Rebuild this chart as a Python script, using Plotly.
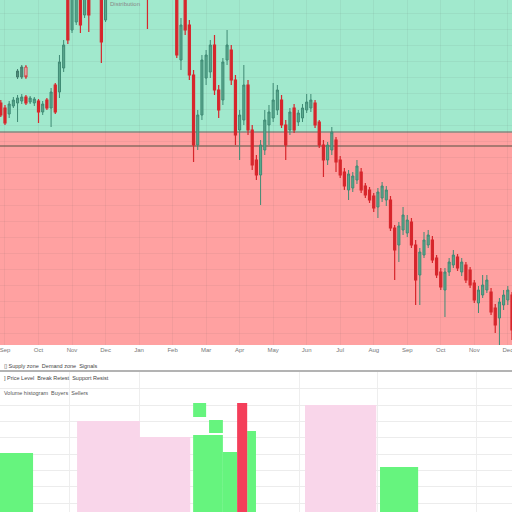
import plotly.graph_objects as go

# ---------------- data ----------------
month_labels = ["Sep", "Oct", "Nov", "Dec", "Jan", "Feb", "Mar", "Apr",
                "May", "Jun", "Jul", "Aug", "Sep", "Oct", "Nov", "Dec"]

opens = [242, 237, 231, 239, 242, 244, 248, 243, 242, 244,
         233, 245, 237, 260, 253, 277, 360, 315, 323, 365,
         330, 370, 350, 375, 360, 325, 365, 375, 370, 382,
         390, 384, 392, 398, 390, 380, 372, 380, 388, 381,
         375, 368, 365, 285, 355, 320, 270, 200, 230, 267,
         273, 300, 255, 245, 285, 295, 265, 215, 225, 260,
         215, 185, 170, 195, 220, 227, 235, 245, 220, 215,
         237, 223, 227, 235, 237, 242, 223, 200, 185, 195,
         205, 185, 173, 155, 157, 165, 173, 159, 155, 149,
         138, 147, 145, 145, 117, 100, 115, 112, 123, 100,
         70, 90, 100, 105, 87, 73, 55, 73, 80, 88,
         73, 80, 75, 62, 42, 50, 55, 53, 37, 27,
         40, 45, 50]
highs = [245, 240, 244, 248, 250, 251, 250, 249, 248, 246,
         244, 247, 257, 262, 290, 305, 370, 365, 370, 375,
         375, 380, 385, 390, 370, 375, 382, 385, 390, 398,
         396, 400, 405, 404, 395, 386, 388, 395, 394, 387,
         380, 374, 375, 327, 365, 325, 275, 235, 290, 295,
         305, 310, 260, 287, 315, 300, 270, 235, 280, 265,
         220, 190, 205, 235, 240, 262, 260, 250, 225, 237,
         241, 235, 241, 251, 251, 245, 225, 205, 203, 218,
         208, 189, 177, 175, 173, 185, 177, 162, 158, 152,
         157, 163, 159, 149, 120, 123, 138, 130, 127, 105,
         97, 113, 115, 109, 90, 77, 77, 87, 95, 91,
         87, 83, 78, 65, 59, 70, 70, 57, 41, 47,
         55, 59, 53]
lows = [228, 220, 227, 237, 223, 241, 240, 241, 239, 222,
        230, 235, 218, 231, 247, 273, 301, 312, 320, 312,
        327, 313, 347, 348, 282, 323, 360, 362, 365, 377,
        378, 380, 386, 384, 372, 316, 366, 374, 375, 368,
        360, 350, 287, 275, 310, 265, 183, 195, 225, 260,
        267, 250, 227, 240, 280, 260, 200, 185, 220, 210,
        175, 165, 140, 190, 200, 223, 230, 217, 185, 210,
        212, 219, 223, 232, 233, 217, 197, 168, 180, 190,
        173, 167, 155, 145, 153, 161, 152, 147, 142, 133,
        127, 143, 139, 114, 65, 83, 110, 108, 97, 40,
        40, 87, 97, 82, 67, 55, 28, 69, 77, 74,
        69, 62, 57, 42, 32, 47, 52, 30, 12, 0,
        35, 40, 5]
closes = [230, 222, 241, 245, 247, 248, 242, 247, 246, 233,
          241, 237, 253, 233, 283, 300, 305, 355, 360, 320,
          365, 330, 375, 352, 303, 365, 375, 370, 382, 390,
          384, 392, 398, 390, 380, 372, 380, 388, 381, 375,
          368, 362, 290, 320, 315, 270, 200, 230, 285, 290,
          300, 255, 235, 283, 300, 265, 210, 230, 260, 215,
          180, 170, 200, 225, 233, 245, 255, 220, 200, 233,
          215, 232, 237, 243, 245, 220, 200, 185, 200, 213,
          183, 170, 159, 171, 169, 179, 155, 150, 145, 137,
          153, 159, 155, 117, 95, 119, 130, 125, 100, 65,
          93, 105, 110, 85, 70, 58, 73, 83, 90, 77,
          83, 65, 60, 45, 55, 60, 65, 33, 20, 43,
          50, 55, 15]

# small stray candles
blip_idx = [4, 5, 6]
blip_open = [268, 268, 278]
blip_high = [276, 280, 280]
blip_low = [266, 266, 266]
blip_close = [274, 278, 268]

# zone levels
upper_zone_level = 213
lower_line_level = 199

# lower panel blocks (start index, end index, bottom, top)
green_start = [-0.5, 45.9, 53.0, 45.9, 49.7, 58.8, 90.5]
green_end = [7.7, 53.0, 56.4, 49.0, 53.0, 60.9, 99.6]
green_low = [0, 0, 0, 95, 79, 0, 0]
green_high = [59, 77, 60, 109, 92, 81, 45]

pink_start = [18.2, 33.2, 72.6]
pink_end = [33.2, 45.2, 89.6]
pink_high = [91, 75, 107]

red_start = [56.4]
red_end = [58.8]
red_high = [109]

# ---------------- figure ----------------
idx = list(range(len(opens)))
fig = go.Figure()

fig.add_trace(go.Candlestick(
    x=idx, open=opens, high=highs, low=lows, close=closes,
    xaxis="x", yaxis="y",
    increasing=dict(line=dict(color="#3f8a74", width=1), fillcolor="#5aa98e"),
    decreasing=dict(line=dict(color="#d7262c", width=1.2), fillcolor="#d7262c"),
    showlegend=False, hoverinfo="skip"))

fig.add_trace(go.Candlestick(
    x=blip_idx, open=blip_open, high=blip_high, low=blip_low, close=blip_close,
    xaxis="x", yaxis="y",
    increasing=dict(line=dict(color="#3f7a6a", width=1), fillcolor="#4f8f7a"),
    decreasing=dict(line=dict(color="#d7262c", width=1), fillcolor="#f2f2f2"),
    showlegend=False, hoverinfo="skip"))


def blocks(starts, ends, lows_, highs_, color):
    return go.Bar(
        x=[(a + b) / 2 for a, b in zip(starts, ends)],
        width=[b - a for a, b in zip(starts, ends)],
        base=lows_,
        y=[h - l for h, l in zip(highs_, lows_)],
        marker=dict(color=color, line=dict(width=0)),
        xaxis="x2", yaxis="y2", showlegend=False, hoverinfo="skip")


fig.add_trace(blocks(pink_start, pink_end, [0] * len(pink_start), pink_high, "#f9d6ea"))
fig.add_trace(blocks(green_start, green_end, green_low, green_high, "#66f47e"))
fig.add_trace(blocks(red_start, red_end, [0], red_high, "#f43e5a"))

xrange = [-0.19, 122.0]
grid_top = "rgba(80,80,80,0.07)"

fig.update_layout(
    width=512, height=512,
    margin=dict(l=0, r=0, t=0, b=0),
    paper_bgcolor="white", plot_bgcolor="white",
    barmode="overlay",
    font=dict(family="Liberation Sans", size=7, color="#666"),
    xaxis=dict(domain=[0, 1], anchor="y", range=xrange,
               tickvals=list(range(1, 122, 8)), ticktext=month_labels,
               tickfont=dict(size=6, color="#777"), ticks="",
               ticklabeloverflow="allow",
               showgrid=True, gridcolor=grid_top, gridwidth=1,
               zeroline=False, showline=False,
               rangeslider=dict(visible=False)),
    yaxis=dict(domain=[1 - 345 / 512, 1], anchor="x", range=[0, 345],
               showticklabels=False, ticks="", showgrid=True,
               gridcolor=grid_top, tick0=12, dtick=16, zeroline=False),
    xaxis2=dict(domain=[0, 1], anchor="y2", range=xrange,
                tickvals=[16.5, 33.2, 71.4, 89.8, 113.6],
                showticklabels=False, ticks="", showgrid=True,
                gridcolor="#eeeeee", zeroline=False),
    yaxis2=dict(domain=[0, 1 - 372 / 512], anchor="x2", range=[0, 140],
                showticklabels=False, ticks="", showgrid=True,
                gridcolor="#ececec", tick0=9, dtick=16.3, zeroline=False),
    shapes=[
        dict(type="rect", xref="x domain", yref="y", x0=0, x1=1,
             y0=upper_zone_level, y1=400, fillcolor="#a1e9cd",
             line=dict(width=0), layer="below"),
        dict(type="rect", xref="x domain", yref="y", x0=0, x1=1,
             y0=-10, y1=upper_zone_level, fillcolor="#ffa1a1",
             line=dict(width=0), layer="below"),
        dict(type="line", xref="x domain", yref="y", x0=0, x1=1,
             y0=upper_zone_level, y1=upper_zone_level,
             line=dict(color="#858a80", width=1.5), layer="below"),
        dict(type="line", xref="x domain", yref="y", x0=0, x1=1,
             y0=lower_line_level, y1=lower_line_level,
             line=dict(color="#8d6d62", width=1.5), layer="below"),
        dict(type="line", xref="paper", yref="paper", x0=0, x1=1,
             y0=1 - 371 / 512, y1=1 - 371 / 512,
             line=dict(color="#9a9a9a", width=1.5)),
    ],
    annotations=[
        dict(text="Distribution", x=108 / 512, y=1 - 4 / 512, xref="paper",
             yref="paper", xanchor="left", yanchor="middle", showarrow=False,
             font=dict(size=6, color="#888")),
        dict(text="▯ Supply zone  Demand zone  Signals", x=2 / 512,
             y=1 - 366 / 512, xref="paper", yref="paper", xanchor="left",
             yanchor="middle", showarrow=False, font=dict(size=5.5, color="#444")),
        dict(text="] Price Level  Break Retest  Support Resist", x=2 / 512,
             y=1 - 378 / 512, xref="paper", yref="paper", xanchor="left",
             yanchor="middle", showarrow=False, font=dict(size=5.5, color="#444")),
        dict(text="Volume histogram  Buyers  Sellers", x=2 / 512,
             y=1 - 393 / 512, xref="paper", yref="paper", xanchor="left",
             yanchor="middle", showarrow=False, font=dict(size=5.5, color="#555")),
    ],
)

fig.write_html("out.html",
               config={"displayModeBar": False},
               post_script="document.body.style.margin='0';document.body.style.overflow='hidden';")
